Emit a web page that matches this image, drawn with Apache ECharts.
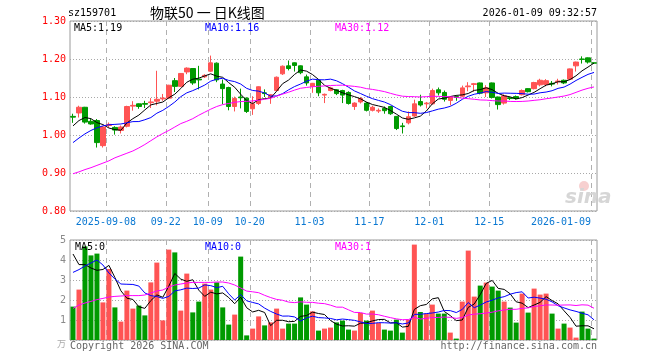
<!DOCTYPE html>
<html><head><meta charset="utf-8">
<script src="https://cdn.jsdelivr.net/npm/echarts@6/dist/echarts.min.js"></script>
<style>html,body{margin:0;padding:0;background:#fff}#c{width:660px;height:360px}</style>
</head><body><div id="c"></div>
<script>
const dates = [
'2025-08-29','2025-09-01','2025-09-02','2025-09-03','2025-09-04','2025-09-05',
'2025-09-08','2025-09-09','2025-09-10','2025-09-11','2025-09-12',
'2025-09-15','2025-09-16','2025-09-17','2025-09-18','2025-09-19',
'2025-09-22','2025-09-23','2025-09-24','2025-09-25','2025-09-26',
'2025-09-29','2025-09-30','2025-10-09','2025-10-10',
'2025-10-13','2025-10-14','2025-10-15','2025-10-16','2025-10-17',
'2025-10-20','2025-10-21','2025-10-22','2025-10-23','2025-10-24',
'2025-10-27','2025-10-28','2025-10-29','2025-10-30','2025-10-31',
'2025-11-03','2025-11-04','2025-11-05','2025-11-06','2025-11-07',
'2025-11-10','2025-11-11','2025-11-12','2025-11-13','2025-11-14',
'2025-11-17','2025-11-18','2025-11-19','2025-11-20','2025-11-21',
'2025-11-24','2025-11-25','2025-11-26','2025-11-27','2025-11-28',
'2025-12-01','2025-12-02','2025-12-03','2025-12-04','2025-12-05',
'2025-12-08','2025-12-09','2025-12-10','2025-12-11','2025-12-12',
'2025-12-15','2025-12-16','2025-12-17','2025-12-18','2025-12-19',
'2025-12-22','2025-12-23','2025-12-24','2025-12-25','2025-12-26',
'2025-12-29','2025-12-30','2025-12-31',
'2026-01-05','2026-01-06','2026-01-07','2026-01-08','2026-01-09'];
const labeledDates = ['2025-09-08','2025-09-22','2025-10-09','2025-10-20','2025-11-03','2025-11-17','2025-12-01','2025-12-15','2026-01-09'];

const opens = [1.049,1.058,1.073,1.036,1.038,0.972,1.025,1.020,1.012,1.023,
1.076,1.082,1.083,1.085,1.089,1.095,1.097,1.143,1.128,1.166,
1.175,1.147,1.153,1.168,1.189,1.134,1.125,1.075,1.100,1.097,
1.069,1.083,1.111,1.100,1.117,1.161,1.182,1.190,1.182,1.153,
1.128,1.144,1.105,1.117,1.119,1.117,1.112,1.075,1.087,1.084,
1.065,1.063,1.070,1.075,1.049,1.024,1.032,1.050,1.088,1.082,
1.082,1.119,1.112,1.091,1.101,1.102,1.127,1.133,1.137,1.111,
1.137,1.100,1.084,1.098,1.101,1.106,1.122,1.122,1.132,1.133,
1.136,1.140,1.144,1.147,1.182,1.200,1.203,1.190];
const closes = [1.047,1.073,1.034,1.029,0.980,1.021,1.028,1.013,1.021,1.075,
1.078,1.075,1.081,1.087,1.094,1.097,1.131,1.128,1.162,1.176,
1.137,1.145,1.157,1.190,1.145,1.122,1.075,1.096,1.098,1.062,
1.082,1.127,1.109,1.106,1.152,1.181,1.175,1.183,1.164,1.137,
1.136,1.111,1.107,1.124,1.109,1.105,1.083,1.084,1.096,1.065,
1.073,1.065,1.064,1.056,1.017,1.022,1.048,1.082,1.079,1.084,
1.117,1.111,1.094,1.100,1.099,1.124,1.129,1.135,1.110,1.124,
1.099,1.080,1.103,1.096,1.096,1.117,1.114,1.138,1.144,1.143,
1.134,1.142,1.137,1.174,1.192,1.199,1.192,1.189];
const lows = [1.032,1.046,1.030,1.027,0.967,0.967,1.020,1.001,1.004,1.020,
1.064,1.069,1.071,1.071,1.078,1.090,1.095,1.113,1.126,1.160,
1.132,1.120,1.150,1.166,1.139,1.081,1.065,1.062,1.070,1.058,
1.053,1.079,1.100,1.082,1.115,1.158,1.170,1.167,1.160,1.130,
1.111,1.102,1.084,1.115,1.105,1.084,1.080,1.066,1.083,1.062,
1.062,1.058,1.056,1.053,1.013,1.004,1.028,1.048,1.075,1.070,
1.080,1.104,1.088,1.078,1.090,1.100,1.115,1.114,1.107,1.100,
1.096,1.067,1.080,1.092,1.093,1.104,1.112,1.120,1.128,1.128,
1.128,1.133,1.134,1.145,1.167,1.188,1.188,1.189];
const highs = [1.056,1.077,1.074,1.043,1.042,1.024,1.033,1.023,1.025,1.077,
1.089,1.083,1.090,1.097,1.169,1.108,1.132,1.150,1.163,1.178,
1.176,1.182,1.160,1.209,1.191,1.146,1.127,1.101,1.122,1.099,
1.102,1.128,1.120,1.108,1.154,1.183,1.196,1.191,1.183,1.159,
1.137,1.146,1.109,1.127,1.121,1.119,1.115,1.086,1.100,1.087,
1.077,1.070,1.075,1.077,1.050,1.032,1.062,1.093,1.106,1.087,
1.122,1.125,1.117,1.102,1.104,1.130,1.139,1.137,1.138,1.131,
1.138,1.101,1.107,1.100,1.104,1.120,1.123,1.140,1.148,1.147,
1.142,1.148,1.146,1.175,1.193,1.207,1.204,1.190];
const volumes = [1.67,2.52,4.68,4.23,4.32,1.88,3.55,1.63,0.92,2.47,
1.57,1.72,1.23,2.88,3.87,0.98,4.52,4.38,1.47,3.32,
1.38,1.92,2.82,2.52,2.88,1.63,0.77,1.27,4.17,0.23,
0.57,1.18,0.73,0.88,1.57,0.57,0.82,0.82,2.13,1.77,
1.43,0.47,0.57,0.62,0.88,0.97,0.52,0.47,1.35,0.97,
1.47,0.85,0.52,0.47,1.02,0.37,1.02,4.77,1.40,1.32,
1.77,1.32,1.32,0.37,0.07,1.92,4.47,2.17,2.72,2.87,
2.67,2.47,1.92,1.62,0.87,2.32,1.37,2.57,2.27,2.32,
1.32,0.57,0.82,0.62,0.12,1.42,0.57,0.07];

// moving-average values for the first days (earlier history not shown)
const ma5Lead = [1.024,1.038,1.046,1.043];
const ma10Lead = [0.980,0.992,1.003,1.012,1.019,1.024,1.027,1.028,1.029];
const ma30Lead = [0.898,0.903,0.909,0.914,0.920,0.926,0.932,0.940,0.946,0.952,
0.958,0.966,0.975,0.985,0.995,1.004,1.012,1.021,1.030,1.036,
1.043,1.052,1.060,1.068,1.075,1.080,1.083,1.086,1.088];
const vma5Lead = [4.30,3.77,3.77,3.60];
const vma10Lead = [3.38,3.52,3.70,3.85,4.00,3.75,3.35,3.05,2.80];
const vma30Lead = [1.58,1.75,1.85,1.93,2.02,2.08,2.15,2.18,2.20,2.22,
2.22,2.22,2.25,2.35,2.45,2.50,2.65,2.75,2.80,2.85,
2.88,2.88,2.88,2.88,2.90,2.90,2.85,2.75,2.60];

const priceTicks = [0.8, 1.3, 0.1];
const volTicks = [0, 5, 1];
const maTexts = ['MA5:1.19','MA10:1.16','MA30:1.12'];
const volMaTexts = ['MA5:0','MA10:0','MA30:1'];
const titleTexts = ['sz159701','物联50 一 日K线图','2026-01-09 09:32:57'];

const RED = '#ff5454', GREEN = '#009a00';
const MONO = '"DejaVu Sans Mono", monospace';

function movingAvg(vals, n, lead) {
  return vals.map((v, i) => {
    if (i < n - 1) return lead[i];
    let s = 0; for (let j = i - n + 1; j <= i; j++) s += vals[j];
    return +(s / n).toFixed(4);
  });
}
const labeledIdx = labeledDates.map(d => dates.indexOf(d));
const labeledSet = new Set(labeledIdx);
const labeledStr = new Set(labeledDates);
const showIdx = (idx, val) => labeledSet.has(idx) || labeledStr.has(val);

const kData = dates.map((d, i) => [opens[i], closes[i], lows[i], highs[i]]);
const volData = volumes.map((v, i) => ({
  value: v,
  itemStyle: { color: closes[i] >= opens[i] ? RED : GREEN }
}));

const chart = echarts.init(document.getElementById('c'), null, { renderer: 'canvas' });
const gridCommon = { left: 70, right: 63, show: true, borderColor: '#9a9a9a', borderWidth: 1 };
const hSplit = { show: true, lineStyle: { color: '#a8a8a8', type: [1, 2], width: 1 } };

const maLine = (name, data, color, xi) => ({
  name, type: 'line', data, xAxisIndex: xi, yAxisIndex: xi, symbol: 'none',
  lineStyle: { color, width: 1 }, itemStyle: { color }, z: 6, silent: true
});

const txt = (text, x, y, fill, align, font) => ({
  type: 'text', x, y, silent: true, z: 10,
  style: { text, fill, font: font || ('10px ' + MONO), textAlign: align || 'left', textVerticalAlign: 'middle', align: align || 'left', verticalAlign: 'middle' }
});

const textGraphics = [
  txt(titleTexts[0], 68, 13, '#000'),
  txt(titleTexts[1], 150, 13, '#000', 'left', '14px "Noto Sans CJK SC"'),
  txt(titleTexts[2], 597, 13, '#000', 'right'),
  txt(maTexts[0], 74, 28, '#000'),
  txt(maTexts[1], 205, 28, '#0000ff'),
  txt(maTexts[2], 335, 28, '#ff00ff'),
  txt(volMaTexts[0], 75, 247, '#000'),
  txt(volMaTexts[1], 205, 247, '#0000ff'),
  txt(volMaTexts[2], 335, 247, '#ff00ff'),
  txt('Copyright 2026 SINA.COM', 70, 346, '#666'),
  txt('http://finance.sina.com.cn', 597, 346, '#666', 'right'),
  txt('万', 57, 344, '#aaa', 'left', '9px "Noto Sans CJK SC"'),
  { type: 'circle', shape: { cx: 584, cy: 186, r: 5 }, style: { fill: '#f7d0d0' }, silent: true, z: 0 },
  txt('sina', 565, 198, '#d6d6d6', 'left', 'italic bold 20px "DejaVu Sans"')
];

chart.setOption({
  animation: false,
  backgroundColor: '#ffffff',
  grid: [
    Object.assign({ top: 21, height: 190 }, gridCommon),
    Object.assign({ top: 240, height: 100 }, gridCommon)
  ],
  xAxis: [
    {
      type: 'category', gridIndex: 0, data: dates, boundaryGap: true,
      axisLine: { show: false }, axisTick: { show: false },
      axisLabel: {
        interval: showIdx, margin: 6,
        formatter: (val) => {
          const last = val === dates[dates.length - 1];
          const t = (val === labeledDates[0] || last) ? val : val.slice(5);
          return last ? '{l|' + t + '}' : '{n|' + t + '}';
        },
        rich: {
          n: { color: '#0a78d2', fontFamily: 'DejaVu Sans Mono', fontSize: 10, padding: [0, 6, 0, 0] },
          l: { color: '#0a78d2', fontFamily: 'DejaVu Sans Mono', fontSize: 10, padding: [0, 66, 0, 0] }
        }
      },
      splitLine: { show: false }
    },
    {
      type: 'category', gridIndex: 1, data: dates, boundaryGap: true,
      axisLine: { show: false }, axisTick: { show: false }, axisLabel: { show: false },
      splitLine: { show: false }
    }
  ],
  yAxis: [
    {
      type: 'value', gridIndex: 0, min: priceTicks[0], max: priceTicks[1], interval: priceTicks[2],
      axisLine: { show: false }, axisTick: { show: false },
      axisLabel: { color: '#ff0000', fontFamily: 'DejaVu Sans Mono', fontSize: 10, margin: 4, formatter: v => v.toFixed(2) },
      splitLine: hSplit
    },
    {
      type: 'value', gridIndex: 1, min: volTicks[0], max: volTicks[1], interval: volTicks[2],
      axisLine: { show: false }, axisTick: { show: false },
      axisLabel: { color: '#8a8a8a', fontFamily: 'DejaVu Sans Mono', fontSize: 10, margin: 4, formatter: v => v === 0 ? '' : String(v) },
      splitLine: hSplit
    }
  ],
  series: [
    {
      name: 'K', type: 'candlestick', xAxisIndex: 0, yAxisIndex: 0, data: kData, barWidth: 5, z: 3,
      itemStyle: { color: RED, color0: GREEN, borderColor: RED, borderColor0: GREEN, borderWidth: 1 }
    },
    maLine('MA5', movingAvg(closes, 5, ma5Lead), '#000000', 0),
    maLine('MA10', movingAvg(closes, 10, ma10Lead), '#0000ff', 0),
    maLine('MA30', movingAvg(closes, 30, ma30Lead), '#ff00ff', 0),
    { name: 'VOL', type: 'bar', xAxisIndex: 1, yAxisIndex: 1, data: volData, barWidth: 5, z: 3 },
    maLine('VMA5', movingAvg(volumes, 5, vma5Lead), '#000000', 1),
    maLine('VMA10', movingAvg(volumes, 10, vma10Lead), '#0000ff', 1),
    maLine('VMA30', movingAvg(volumes, 30, vma30Lead), '#ff00ff', 1)
  ],
  graphic: textGraphics
});

// vertical dashed separators at the left edge of each labelled day's band, placed through the axes
const lineGraphics = [];
let errMsg = '';
function px(finder, v) {
  try { return chart.convertToPixel(finder, v); } catch (e) { errMsg += ' ' + e.message; return null; }
}
const a0 = px({ gridIndex: 0 }, [dates[0], priceTicks[1]]);
const a1 = px({ gridIndex: 0 }, [dates[1], priceTicks[0]]);
let bands = [];
if (a0 && a1) bands.push([a0[1], a1[1]]);
let v0 = px({ gridIndex: 1 }, [dates[0], volTicks[1]]);
let v1 = px({ gridIndex: 1 }, [dates[0], volTicks[0]]);
if (v0 && v1) bands.push([v0[1], v1[1]]);
const bw = (a0 && a1) ? (a1[0] - a0[0]) : 0;
labeledIdx.forEach(i => {
  const c = px({ gridIndex: 0 }, [dates[i], priceTicks[0]]);
  if (!c) return;
  const x = Math.round(c[0] - bw / 2);
  bands.forEach(([yTop, yBot]) => {
    for (let y = yTop; y < yBot; y += 9) {
      lineGraphics.push({
        type: 'rect', silent: true, z: 1,
        shape: { x: x, y: y, width: 1, height: Math.min(5, yBot - y) },
        style: { fill: '#b0b0b0' }
      });
    }
  });
});
if (!lineGraphics.length) errMsg += ' nolines ' + JSON.stringify([a0, a1, v0, v1]);
const extra = errMsg ? [txt(errMsg, 100, 300, '#ff0000', 'left', 'bold 11px ' + MONO)] : [];
chart.setOption({ graphic: textGraphics.concat(extra, lineGraphics) });
</script></body></html>
